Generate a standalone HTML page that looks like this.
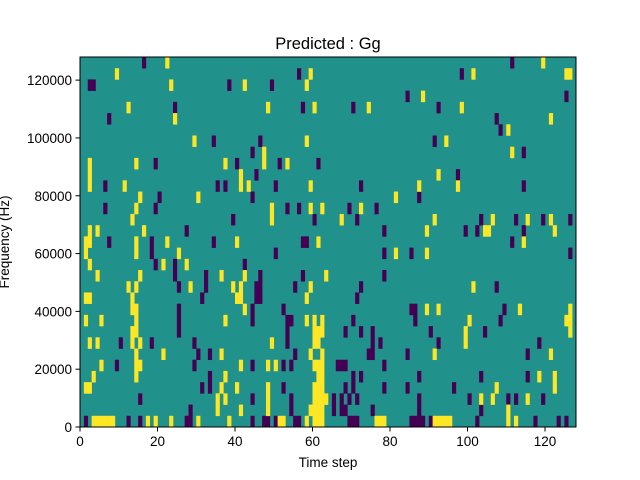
<!DOCTYPE html>
<html><head><meta charset="utf-8"><style>
html,body{margin:0;padding:0;background:#fff;}
svg{display:block;font-family:"Liberation Sans","DejaVu Sans",sans-serif;}
</style></head><body>
<svg id="chart" width="640" height="480" viewBox="0 0 640 480" xmlns="http://www.w3.org/2000/svg">
<rect width="640" height="480" fill="#fff"/>
<text x="328" y="49" text-anchor="middle" font-size="16.5" fill="#000">Predicted : Gg</text>
<g id="plot"></g>
<g id="axes"></g>
<text x="328" y="467" text-anchor="middle" font-size="13.5" fill="#000">Time step</text>
<text transform="translate(9,242) rotate(-90)" text-anchor="middle" font-size="13.5" fill="#000">Frequency (Hz)</text>
</svg>
<script>
// time steps: 0..127, frequency bins: 33 rows (row 0 = top, highest frequency)
const nTime = 128;
const nBins = 33;
const xTicks = [0, 20, 40, 60, 80, 100, 120];
const yTicks = [0, 20000, 40000, 60000, 80000, 100000, 120000];
const freqMax = 128000;
// cells with value -1 (purple): [timeStep, rowFromTop, ...]
const negCells = [16,0,2,2,3,2,24,4,7,5,19,9,6,11,20,12,6,13,19,13,27,15,7,16,18,16,18,17,19,18,24,18,24,19,25,20,31,21,25,22,25,23,25,24,10,25,18,25,29,25,30,26,9,27,29,27,31,29,15,30,28,31,1,32,12,32,15,32,27,32,28,32,
56,1,38,2,49,2,57,4,34,7,46,7,44,8,40,9,51,9,61,9,45,10,35,11,37,11,50,11,44,12,53,13,56,13,39,14,60,14,34,16,57,16,58,16,50,17,42,18,32,19,32,20,46,19,46,20,46,21,57,19,45,20,45,21,55,20,44,22,44,23,52,22,53,23,54,23,53,24,53,25,33,26,55,26,44,27,52,27,54,27,33,28,33,29,52,29,44,30,54,30,54,31,44,32,47,32,48,32,50,32,55,32,56,32,
84,3,70,4,92,4,91,7,72,11,87,12,69,13,76,13,71,14,78,15,78,17,85,17,78,19,72,20,71,21,85,22,86,22,70,23,86,23,68,24,72,24,75,24,90,24,77,25,92,25,74,26,75,25,75,26,84,26,66,27,67,27,68,27,78,27,70,28,72,28,87,28,68,29,70,29,78,29,84,29,65,30,65,31,67,30,67,31,69,30,71,30,87,30,87,31,68,31,75,31,69,32,70,32,71,32,85,32,86,32,87,32,88,32,90,32,
111,0,98,1,125,3,107,5,108,6,114,8,97,10,114,11,103,14,112,14,119,14,126,14,99,15,102,15,114,15,111,16,126,17,107,20,109,22,108,23,104,24,118,25,115,26,103,28,115,28,96,29,100,30,110,30,112,30,119,30,103,31,102,32,117,32,123,32,125,32];
// cells with value +1 (yellow): [timeStep, rowFromTop, ...]
const posCells = [22,0,9,1,23,2,12,4,24,5,29,7,2,9,2,10,2,11,14,9,11,11,15,12,30,12,14,13,13,14,2,15,4,15,16,15,1,16,2,16,14,16,22,16,1,17,14,17,25,17,2,18,21,18,27,18,4,19,15,19,12,20,14,20,28,20,1,21,2,21,13,21,13,22,14,22,14,23,13,24,14,24,1,23,5,23,2,25,4,25,13,25,15,25,14,26,21,26,5,27,14,27,15,27,3,28,14,28,1,29,2,29,3,32,4,32,5,32,6,32,7,32,8,32,17,32,19,32,23,32,30,32,
59,1,42,2,58,2,48,4,60,4,58,7,47,8,47,9,37,9,53,9,41,10,41,11,43,11,59,11,49,13,49,14,59,13,62,13,40,16,61,16,36,19,42,19,63,19,39,20,41,20,59,20,40,21,41,21,58,21,42,22,37,23,58,23,60,23,62,23,60,24,61,24,62,24,49,25,60,25,61,25,36,26,59,26,62,26,41,27,48,27,50,27,60,27,61,27,62,27,37,28,61,28,62,28,36,29,40,29,48,29,48,30,48,31,60,29,61,29,62,29,35,30,35,31,37,30,60,30,61,30,62,30,63,30,41,31,59,31,60,31,61,31,62,31,38,32,51,32,52,32,58,32,60,32,61,32,62,32,
88,3,74,4,94,7,92,10,87,11,81,12,72,13,67,14,91,14,89,15,81,17,89,17,89,22,92,22,91,26,76,32,77,32,78,32,91,32,92,32,93,32,94,32,95,32,
119,0,101,1,125,1,126,1,98,4,121,5,110,6,111,8,97,11,106,14,115,14,121,14,104,15,105,15,122,15,114,16,101,20,113,22,126,22,126,23,126,24,100,23,125,23,99,24,99,25,121,26,118,28,122,28,122,29,107,29,103,30,106,30,115,30,110,31,110,32,112,32];

const L = 80, T = 57, W = 496, H = 370;
const xScale = t => L + t / nTime * W;
const yScale = f => T + H - f / freqMax * H;
const rowTop = r => T + r / nBins * H;
const colors = { "-1": "#440154", "0": "#21918c", "1": "#fde725" };
const NS = "http://www.w3.org/2000/svg";
const plot = document.getElementById("plot");
const axes = document.getElementById("axes");

const bg = document.createElementNS(NS, "rect");
bg.setAttribute("x", L); bg.setAttribute("y", T);
bg.setAttribute("width", W); bg.setAttribute("height", H);
bg.setAttribute("fill", colors["0"]);


plot.appendChild(bg);

function drawCells(arr, val) {
  for (let i = 0; i < arr.length; i += 2) {
    const t = arr[i], r = arr[i + 1];
    const c = document.createElementNS(NS, "rect");
    const x0 = xScale(t), x1 = xScale(t + 1);
    const y0 = rowTop(r), y1 = rowTop(r + 1);
    c.setAttribute("x", x0.toFixed(2)); c.setAttribute("y", y0.toFixed(2));
    c.setAttribute("width", (x1 - x0 + 0.3).toFixed(2));
    c.setAttribute("height", (y1 - y0 + 0.3).toFixed(2));
    c.setAttribute("fill", colors[val]);
    
    
    plot.appendChild(c);
  }
}
drawCells(negCells, "-1");
drawCells(posCells, "1");

const frame = document.createElementNS(NS, "rect");
frame.setAttribute("x", L); frame.setAttribute("y", T);
frame.setAttribute("width", W); frame.setAttribute("height", H);
frame.setAttribute("fill", "none"); frame.setAttribute("stroke", "#000"); frame.setAttribute("stroke-width", "1");


axes.appendChild(frame);

xTicks.forEach(v => {
  const x = xScale(v);
  const ln = document.createElementNS(NS, "line");
  ln.setAttribute("x1", x); ln.setAttribute("x2", x);
  ln.setAttribute("y1", T + H); ln.setAttribute("y2", T + H + 4.5);
  ln.setAttribute("stroke", "#000");
  
  
  axes.appendChild(ln);
  const tx = document.createElementNS(NS, "text");
  tx.setAttribute("x", x); tx.setAttribute("y", T + H + 19);
  tx.setAttribute("text-anchor", "middle"); tx.setAttribute("font-size", "13.5");
  tx.textContent = v;
  
  
  axes.appendChild(tx);
});
yTicks.forEach(v => {
  const y = yScale(v);
  const ln = document.createElementNS(NS, "line");
  ln.setAttribute("x1", L - 4.5); ln.setAttribute("x2", L);
  ln.setAttribute("y1", y); ln.setAttribute("y2", y);
  ln.setAttribute("stroke", "#000");
  
  
  axes.appendChild(ln);
  const tx = document.createElementNS(NS, "text");
  tx.setAttribute("x", L - 8); tx.setAttribute("y", y + 5);
  tx.setAttribute("text-anchor", "end"); tx.setAttribute("font-size", "13.5");
  tx.textContent = v;
  
  
  axes.appendChild(tx);
});
</script>
</body></html>
